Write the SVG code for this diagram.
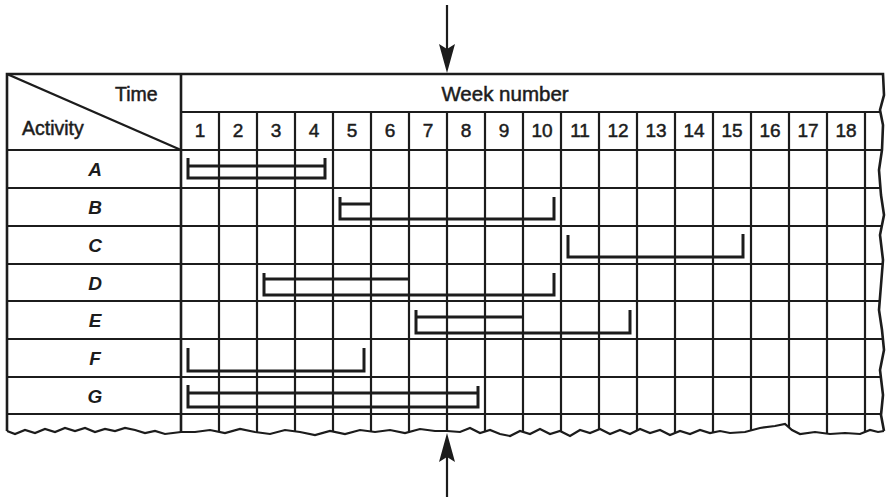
<svg xmlns="http://www.w3.org/2000/svg" width="886" height="497" viewBox="0 0 886 497">
<style>
.g{stroke:#1c1c1c;stroke-width:2.2;fill:none}
.o{stroke:#1c1c1c;stroke-width:2.6;fill:none}
.bar{stroke:#1c1c1c;stroke-width:3;fill:none;stroke-linejoin:miter}
.t{font-family:"Liberation Sans",Arial,sans-serif;font-size:19.5px;fill:#1c1c1c;stroke:#1c1c1c;stroke-width:0.5}
.n{font-family:"Liberation Sans",Arial,sans-serif;font-size:19px;fill:#1c1c1c;stroke:#1c1c1c;stroke-width:0.5;text-anchor:middle}
.r{font-family:"Liberation Sans",Arial,sans-serif;font-size:19px;font-style:italic;font-weight:bold;fill:#1c1c1c;text-anchor:middle}
</style>
<defs>
<clipPath id="sheet">
<polygon points="7,74 883,74 884,95 880,110 883,125 882,150 879,170 881,195 884,215 880,235 883,260 881,285 879,310 882,330 884,350 880,370 883,395 881,415 884,431 878,432 870,430 860,434 845,433 830,434 815,432 800,434 792,430 785,424 775,426 760,428 745,432 730,433 720,431 710,433 700,430 690,434 680,431 670,435 660,430 650,433 640,429 630,434 620,430 610,434 600,429 590,433 580,430 570,436 560,431 550,434 540,429 530,434 520,431 510,436 500,434 490,430 480,433 470,428 460,432 447,431 435,431 420,429 405,433 390,430 375,432 360,430 345,434 330,431 315,435 300,432 285,430 270,434 255,432 240,429 225,433 210,430 195,432 181,432 165,434 155,431 145,433 135,430 125,428 115,431 105,429 95,432 85,428 75,431 65,428 55,432 45,429 35,433 25,430 15,434 7,431"/>
</clipPath>
</defs>
<rect width="886" height="497" fill="#ffffff"/>
<g id="grid" clip-path="url(#sheet)">
<path class="g" d="M181,112H890 M7,150H890 M7,188H890 M7,226H890 M7,264H890 M7,301H890 M7,339H890 M7,377H890 M7,414H890"/>
<path class="g" d="M219,112V440 M257,112V440 M295,112V440 M333,112V440 M371,112V440 M409,112V440 M447,112V440 M485,112V440 M523,112V440 M561,112V440 M599,112V440 M637,112V440 M675,112V440 M713,112V440 M751,112V440 M789,112V440 M827,112V440 M865,112V440"/>
<path class="o" d="M181,74V440"/>
<path class="g" d="M7,74L181,150"/>
</g>
<g id="frame">
<polyline class="o" points="7,431 7,74 883,74 884,95 880,110 883,125 882,150 879,170 881,195 884,215 880,235 883,260 881,285 879,310 882,330 884,350 880,370 883,395 881,415 884,431"/>
<polyline class="g" points="884,431 878,432 870,430 860,434 845,433 830,434 815,432 800,434 792,430 785,424 775,426 760,428 745,432 730,433 720,431 710,433 700,430 690,434 680,431 670,435 660,430 650,433 640,429 630,434 620,430 610,434 600,429 590,433 580,430 570,436 560,431 550,434 540,429 530,434 520,431 510,436 500,434 490,430 480,433 470,428 460,432 447,431 435,431 420,429 405,433 390,430 375,432 360,430 345,434 330,431 315,435 300,432 285,430 270,434 255,432 240,429 225,433 210,430 195,432 181,432 165,434 155,431 145,433 135,430 125,428 115,431 105,429 95,432 85,428 75,431 65,428 55,432 45,429 35,433 25,430 15,434 7,431"/>
</g>
<g id="header">
<text class="t" x="115" y="101">Time</text>
<text class="t" x="22" y="135">Activity</text>
<text class="t" x="505" y="101" text-anchor="middle" style="font-size:20.5px">Week number</text>
<text class="n" x="200" y="137">1</text>
<text class="n" x="238" y="137">2</text>
<text class="n" x="276" y="137">3</text>
<text class="n" x="314" y="137">4</text>
<text class="n" x="352" y="137">5</text>
<text class="n" x="390" y="137">6</text>
<text class="n" x="428" y="137">7</text>
<text class="n" x="466" y="137">8</text>
<text class="n" x="504" y="137">9</text>
<text class="n" x="542" y="137">10</text>
<text class="n" x="580" y="137">11</text>
<text class="n" x="618" y="137">12</text>
<text class="n" x="656" y="137">13</text>
<text class="n" x="694" y="137">14</text>
<text class="n" x="732" y="137">15</text>
<text class="n" x="770" y="137">16</text>
<text class="n" x="808" y="137">17</text>
<text class="n" x="846" y="137">18</text>
</g>
<g id="activity-A">
<text class="r" x="95" y="176">A</text>
<path class="bar" d="M188,158V178H325V158 M188,166H325"/>
</g>
<g id="activity-B">
<text class="r" x="95" y="214">B</text>
<path class="bar" d="M340,197V219H554V197 M340,204H370"/>
</g>
<g id="activity-C">
<text class="r" x="95" y="252">C</text>
<path class="bar" d="M568,235V257H743V234"/>
</g>
<g id="activity-D">
<text class="r" x="95" y="290">D</text>
<path class="bar" d="M264,273V295H554V273 M264,279H408"/>
</g>
<g id="activity-E">
<text class="r" x="95" y="327">E</text>
<path class="bar" d="M416,310V333H630V310 M416,317H522"/>
</g>
<g id="activity-F">
<text class="r" x="95" y="365">F</text>
<path class="bar" d="M188,348V371H364V348"/>
</g>
<g id="activity-G">
<text class="r" x="95" y="403">G</text>
<path class="bar" d="M188,385V407H478V386 M188,393H478"/>
</g>
<g id="connectors">
<path class="g" d="M447,5V50"/>
<polygon points="447,73 439,44 447,49 455,44" fill="#1c1c1c"/>
<path class="g" d="M447,457V497"/>
<polygon points="447,433 439,462 447,457 455,462" fill="#1c1c1c"/>
</g>
</svg>
